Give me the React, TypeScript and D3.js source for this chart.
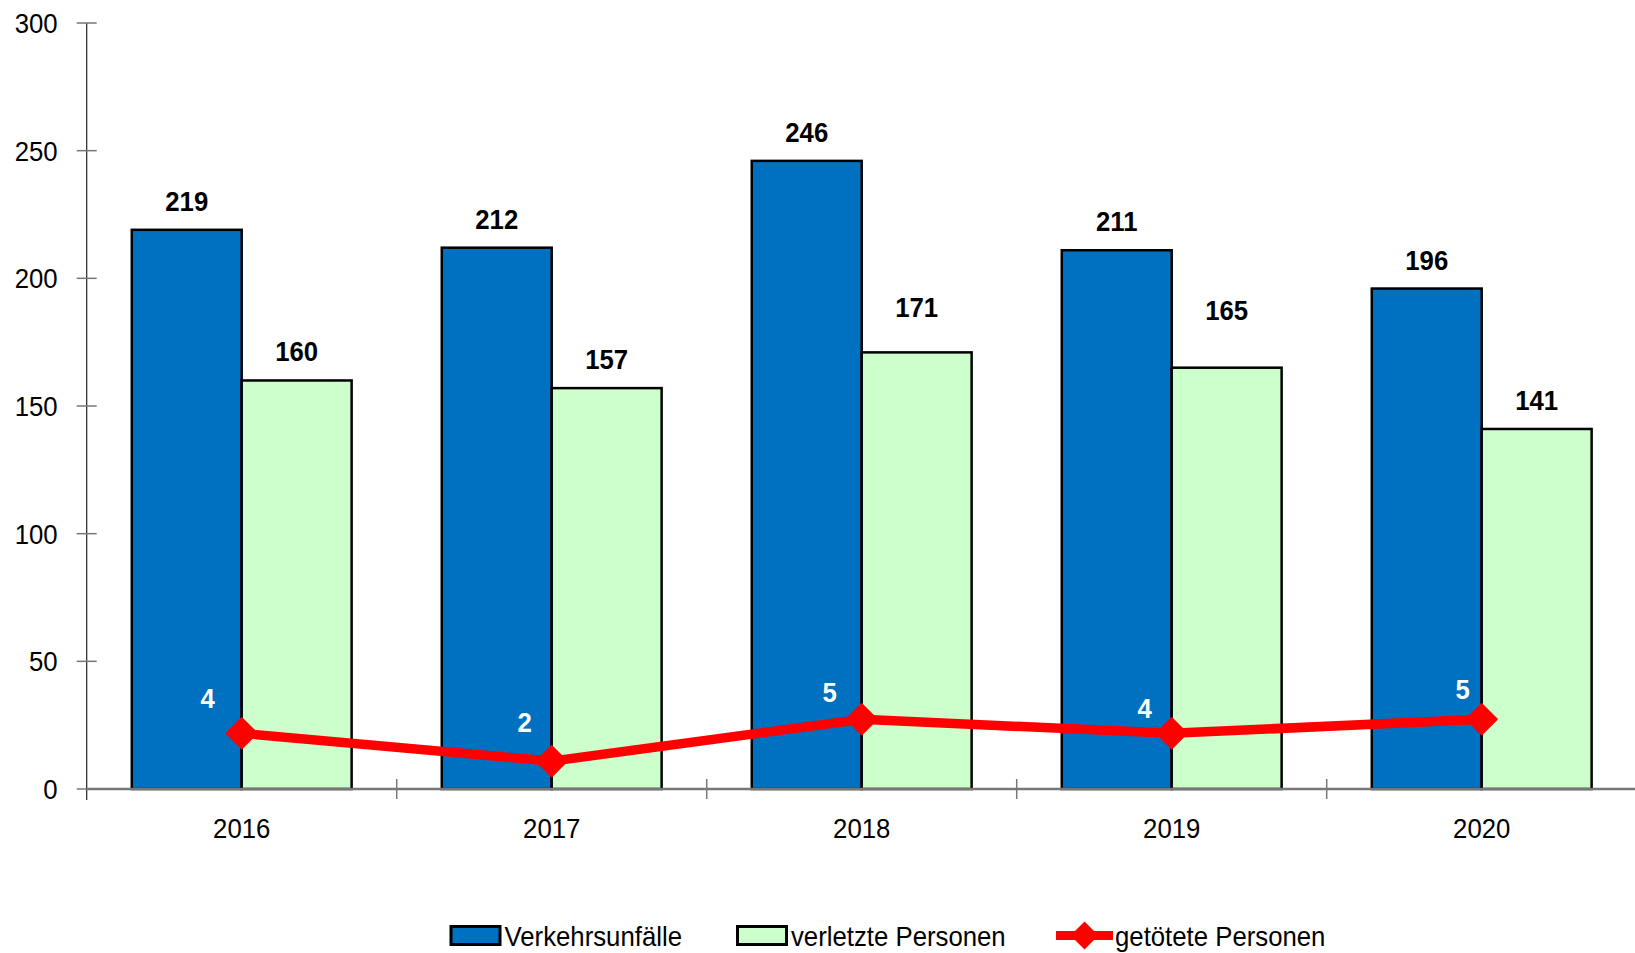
import * as d3 from "d3";

// Verkehrsunfälle / verletzte / getötete Personen 2016-2020
const years = ["2016", "2017", "2018", "2019", "2020"];
const unfaelle = [219, 212, 246, 211, 196];
const verletzte = [160, 157, 171, 165, 141];
const getoetete = [4, 2, 5, 4, 5];
const yTicks = [0, 50, 100, 150, 200, 250, 300];

const legendItems = [
  { key: "bar1", label: "Verkehrsunfälle" },
  { key: "bar2", label: "verletzte Personen" },
  { key: "line", label: "getötete Personen" },
];

// manual label nudges seen in the original (px)
const greenLabelLift: Record<string, number> = { "2018": 16, "2019": 29 };
const lineLabelNudge = [
  [-4, -2],
  [3, -6],
  [-2, 6],
  [3, 8],
  [11, 3],
];

const W = 1635;
const H = 953;
const FONT = "'Liberation Sans', Arial, sans-serif";
const BLUE = "#0070C0";
const GREEN = "#CCFFCC";
const RED = "#FF0000";
const FS = 28;
const SX = 0.92;

const plot = { left: 86.7, right: 1636.7, top: 23, bottom: 789 };

type TProps = {
  x: number;
  y: number;
  anchor?: "start" | "middle" | "end";
  bold?: boolean;
  fill?: string;
  dy?: string;
  children: any;
};
// slightly condensed text like the original
const T = ({ x, y, anchor = "start", bold, fill = "#000", dy, children }: TProps) => (
  <text
    transform={`translate(${x},${y}) scale(${SX},1)`}
    dy={dy}
    textAnchor={anchor}
    fontSize={FS}
    fontWeight={bold ? "bold" : "normal"}
    fill={fill}
  >
    {children}
  </text>
);

export default function App() {
  const x = d3.scaleBand<string>().domain(years).range([plot.left, plot.right]);
  const inner = d3
    .scaleBand<string>()
    .domain(["u", "v"])
    .range([0, x.bandwidth()])
    .paddingOuter(0.41);
  const y = d3.scaleLinear().domain([0, 300]).range([plot.bottom, plot.top]);
  // hidden secondary axis for the line series
  const y2 = d3.scaleLinear().domain([0, 55]).range([plot.bottom, plot.top]);

  const cx = (yr: string) => (x(yr) as number) + x.bandwidth() / 2;
  const line = d3
    .line<number>()
    .x((_, i) => cx(years[i]))
    .y((d) => y2(d));

  const diamond = (px: number, py: number, r: number) =>
    `M${px},${py - r}L${px + r},${py}L${px},${py + r}L${px - r},${py}Z`;

  const bw = inner.bandwidth();

  return (
    <svg
      width={W}
      height={H}
      style={{ position: "absolute", left: 0, top: 0, background: "#fff" }}
      fontFamily={FONT}
    >
      {/* y axis */}
      <line x1={plot.left} x2={plot.left} y1={y(300)} y2={plot.bottom + 11} stroke="#222" strokeWidth={1.2} />
      {yTicks.map((t) => (
        <g key={t}>
          <line x1={plot.left - 10} x2={plot.left + 10} y1={y(t)} y2={y(t)} stroke="#777" strokeWidth={1.5} />
          <T x={plot.left - 29} y={y(t)} dy="0.36em" anchor="end">
            {t}
          </T>
        </g>
      ))}

      {/* bars */}
      {years.map((yr, i) => {
        const x0 = x(yr) as number;
        const xu = x0 + (inner("u") as number);
        const xv = x0 + (inner("v") as number);
        return (
          <g key={yr}>
            <rect x={xu} y={y(unfaelle[i])} width={bw} height={y(0) - y(unfaelle[i])} fill={BLUE} stroke="#000" strokeWidth={2.5} />
            <rect x={xv} y={y(verletzte[i])} width={bw} height={y(0) - y(verletzte[i])} fill={GREEN} stroke="#000" strokeWidth={2.5} />
            <T x={xu + bw / 2} y={y(unfaelle[i]) - 19} anchor="middle" bold>
              {unfaelle[i]}
            </T>
            <T x={xv + bw / 2} y={y(verletzte[i]) - 19 - (greenLabelLift[yr] ?? 0)} anchor="middle" bold>
              {verletzte[i]}
            </T>
          </g>
        );
      })}

      {/* x axis */}
      <line x1={plot.left} x2={W} y1={plot.bottom} y2={plot.bottom} stroke="#777" strokeWidth={2.5} />
      {years.map((yr, i) => (
        <g key={yr}>
          {i > 0 && (
            <line x1={x(yr)} x2={x(yr)} y1={plot.bottom - 10} y2={plot.bottom + 10} stroke="#777" strokeWidth={1.5} />
          )}
          <T x={cx(yr)} y={plot.bottom + 49} anchor="middle">
            {yr}
          </T>
        </g>
      ))}

      {/* line series */}
      <path d={line(getoetete) ?? ""} fill="none" stroke={RED} strokeWidth={9.5} strokeLinejoin="round" />
      {getoetete.map((v, i) => (
        <g key={i}>
          <path d={diamond(cx(years[i]), y2(v), 16.5)} fill={RED} />
          <T
            x={cx(years[i]) - 30 + lineLabelNudge[i][0]}
            y={y2(v) - 23 + lineLabelNudge[i][1]}
            anchor="middle"
            bold
            fill="#fff"
          >
            {v}
          </T>
        </g>
      ))}

      {/* legend */}
      <g transform="translate(449.5,925)">
        {legendItems.map((it, i) => {
          const offs = [0, 286.5, 606.5];
          const ox = offs[i];
          return (
            <g key={it.key} transform={`translate(${ox},0)`}>
              {it.key === "line" ? (
                <g>
                  <line x1={0} x2={57} y1={10.5} y2={10.5} stroke={RED} strokeWidth={9} />
                  <path d={diamond(28.5, 10.5, 14)} fill={RED} />
                </g>
              ) : (
                <rect x={1.5} y={1.5} width={49} height={18} fill={it.key === "bar1" ? BLUE : GREEN} stroke="#000" strokeWidth={3} />
              )}
              <T x={it.key === "line" ? 59 : 55} y={10.5} dy="0.36em">
                {it.label}
              </T>
            </g>
          );
        })}
      </g>
    </svg>
  );
}
